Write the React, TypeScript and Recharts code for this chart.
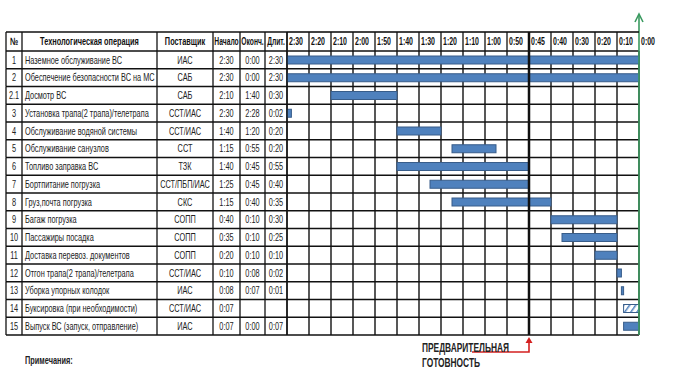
import React from "react";
import { BarChart, Bar, XAxis, YAxis, CartesianGrid, ReferenceLine } from "recharts";

const nums = ["1", "2", "2.1", "3", "4", "5", "6", "7", "8", "9", "10", "11", "12", "13", "14", "15"];
const operations = [
  "Наземное обслуживание ВС",
  "Обеспечение безопасности ВС на МС",
  "Досмотр ВС",
  "Установка трапа(2 трапа)/телетрапа",
  "Обслуживание водяной системы",
  "Обслуживание санузлов",
  "Топливо заправка ВС",
  "Бортпитание погрузка",
  "Груз,почта погрузка",
  "Багаж погрузка",
  "Пассажиры посадка",
  "Доставка перевоз. документов",
  "Отгон трапа(2 трапа)/телетрапа",
  "Уборка упорных колодок",
  "Буксировка (при необходимости)",
  "Выпуск ВС (запуск, отправление)",
];
const suppliers = ["ИАС", "САБ", "САБ", "ССТ/ИАС", "ССТ/ИАС", "ССТ", "ТЗК", "ССТ/ПБП/ИАС", "СКС", "СОПП", "СОПП", "СОПП", "ССТ/ИАС", "ИАС", "ССТ/ИАС", "ИАС"];
const starts = ["2:30", "2:30", "2:10", "2:30", "1:40", "1:15", "1:40", "1:25", "1:15", "0:40", "0:35", "0:20", "0:10", "0:08", "0:07", "0:07"];
const ends = ["0:00", "0:00", "1:40", "2:28", "1:20", "0:55", "0:45", "0:45", "0:40", "0:10", "0:10", "0:10", "0:08", "0:07", "", "0:00"];
const durations = ["2:30", "2:30", "0:30", "0:02", "0:20", "0:20", "0:55", "0:40", "0:35", "0:30", "0:25", "0:10", "0:02", "0:01", "", "0:07"];
const timeTicks = ["2:30", "2:20", "2:10", "2:00", "1:50", "1:40", "1:30", "1:20", "1:10", "1:00", "0:50", "0:45", "0:40", "0:30", "0:20", "0:10", "0:00"];

const W = 674;
const H = 369;
const HEAD_TOP = 32;
const HEAD_H = 19;
const BOTTOM = 34;
const RIGHT = 35;
const COLS = [6, 22, 157, 213, 240, 265, 287];
const ROW_H = (H - HEAD_TOP - HEAD_H - BOTTOM) / nums.length;
const COL_W = (W - COLS[6] - RIGHT) / (timeTicks.length - 1);
const FONT = "'Liberation Sans', Arial, sans-serif";
const SX = 0.7; // исходная картинка сжата по горизонтали
const LINE = "#111";
const BLUE = "#4F81BD";
const BLUE_DARK = "#385D8A";
const GREEN = "#3A9A60";
const RED = "#D42020";

const toMin = (t: string) => {
  const [h, m] = t.split(":").map(Number);
  return h * 60 + m;
};
const tickMin = timeTicks.map(toMin);

// шкала неравномерная (0:50 -> 0:45 -> 0:40), поэтому переводим время в номер колонки
const toPos = (t: string) => {
  const m = toMin(t);
  for (let i = 0; i < tickMin.length - 1; i++) {
    if (m <= tickMin[i] && m >= tickMin[i + 1]) {
      return i + (tickMin[i] - m) / (tickMin[i] - tickMin[i + 1]);
    }
  }
  return 0;
};

const data = nums.map((no, i) => {
  const s = toPos(starts[i]);
  const e = toPos(ends[i] || "0:00");
  return { no, offset: s, len: e - s, hatch: !ends[i] };
});

const mid = (a: number, b: number) => (COLS[a] + COLS[b]) / 2;

const T = ({ x, y, anchor = "start", size = 10.5, bold = false, sx = SX, fill = "#222", children }: any) => (
  <text
    transform={`translate(${x},${y}) scale(${sx},1)`}
    textAnchor={anchor}
    fontSize={size}
    fontWeight={bold ? "bold" : "normal"}
    fontFamily={FONT}
    fill={fill}
  >
    {children}
  </text>
);

const RowTick = (props: any) => {
  const { y, payload } = props;
  const i = nums.indexOf(String(payload.value));
  const top = y - ROW_H / 2;
  const bot = top + ROW_H;
  const ty = y + 3.8;
  return (
    <g>
      <line x1={COLS[0]} x2={COLS[6]} y1={bot} y2={bot} stroke={LINE} strokeWidth={1.6} />
      {COLS.map((cx) => (
        <line key={cx} x1={cx} x2={cx} y1={top} y2={bot} stroke={LINE} strokeWidth={1.3} />
      ))}
      <T x={mid(0, 1)} y={ty} anchor="middle">{nums[i]}</T>
      <T x={COLS[1] + 3} y={ty}>{operations[i]}</T>
      <T x={mid(2, 3)} y={ty} anchor="middle">{suppliers[i]}</T>
      <T x={mid(3, 4)} y={ty} anchor="middle">{starts[i]}</T>
      <T x={mid(4, 5)} y={ty} anchor="middle">{ends[i]}</T>
      <T x={mid(5, 6)} y={ty} anchor="middle">{durations[i]}</T>
    </g>
  );
};

const headers = ["№", "Технологическая операция", "Поставщик", "Начало", "Оконч.", "Длит."];

const TimeTick = (props: any) => {
  const { x, payload } = props;
  const idx = payload.value;
  const ty = HEAD_TOP + HEAD_H / 2 + 3.8;
  const bot = HEAD_TOP + HEAD_H;
  return (
    <g>
      {idx === 0 && (
        <g>
          <line x1={COLS[0]} x2={COLS[6]} y1={HEAD_TOP} y2={HEAD_TOP} stroke={LINE} strokeWidth={1.6} />
          <line x1={COLS[0]} x2={COLS[6]} y1={bot} y2={bot} stroke={LINE} strokeWidth={1.6} />
          {COLS.map((cx) => (
            <line key={cx} x1={cx} x2={cx} y1={HEAD_TOP} y2={bot} stroke={LINE} strokeWidth={1.3} />
          ))}
          {headers.map((h, k) => (
            <T key={h} x={mid(k, k + 1)} y={ty} anchor="middle" bold fill="#111" sx={k >= 3 ? 0.64 : SX}>
              {h}
            </T>
          ))}
        </g>
      )}
      {idx < timeTicks.length - 1 && (
        <>
          <line x1={x} x2={x + COL_W} y1={HEAD_TOP} y2={HEAD_TOP} stroke={LINE} strokeWidth={1.6} />
          <line x1={x} x2={x} y1={HEAD_TOP} y2={bot} stroke={LINE} strokeWidth={1.3} />
        </>
      )}
      <T x={x + 2} y={ty} size={10} bold fill="#111">{timeTicks[idx]}</T>
    </g>
  );
};

const GanttBar = (props: any) => {
  const { x, y, width, height, payload } = props;
  if (!width || width <= 0) return null;
  if (payload.hatch) {
    return (
      <g>
        <defs>
          <pattern id="tow-hatch" width="5" height="5" patternUnits="userSpaceOnUse" patternTransform="rotate(35)">
            <rect width="5" height="5" fill="#fff" />
            <line x1="0" y1="0" x2="0" y2="5" stroke={BLUE} strokeWidth="3" />
          </pattern>
        </defs>
        <rect x={x} y={y} width={width} height={height} fill="url(#tow-hatch)" stroke={BLUE_DARK} strokeWidth={1} />
      </g>
    );
  }
  return <rect x={x} y={y} width={width} height={height} fill={BLUE} stroke={BLUE_DARK} strokeWidth={1} />;
};

const ReadyLine = (props: any) => {
  const { x1, y1, y2 } = props;
  const yb = Math.max(y1, y2);
  return (
    <g>
      <line x1={x1} x2={x1} y1={HEAD_TOP} y2={yb} stroke={LINE} strokeWidth={2.5} />
      <polyline points={`${x1 - 57},${yb + 17} ${x1},${yb + 17} ${x1},${yb + 7}`} fill="none" stroke={RED} strokeWidth={1.6} />
      <path d={`M${x1 - 3.5},${yb + 8} L${x1},${yb + 2} L${x1 + 3.5},${yb + 8}Z`} fill={RED} />
      <T x={x1 - 107} y={yb + 16.5} size={13.5} bold sx={0.62}>ПРЕДВАРИТЕЛЬНАЯ</T>
      <T x={x1 - 107} y={yb + 31.5} size={13.5} bold sx={0.62}>ГОТОВНОСТЬ</T>
    </g>
  );
};

const ZeroLine = (props: any) => {
  const { x1, y1, y2 } = props;
  const yb = Math.max(y1, y2);
  return (
    <g>
      <line x1={x1} x2={x1} y1={15} y2={yb} stroke={GREEN} strokeWidth={1.6} />
      <path d={`M${x1 - 4},${22} L${x1},${14} L${x1 + 4},${22}`} fill="none" stroke={GREEN} strokeWidth={1.6} />
    </g>
  );
};

export default function App() {
  const ticks = timeTicks.map((_, i) => i);
  return (
    <div style={{ position: "absolute", left: 0, top: 0, width: W, height: H, background: "#fff" }}>
      <BarChart
        width={W}
        height={H}
        layout="vertical"
        data={data}
        margin={{ top: HEAD_TOP, right: RIGHT, bottom: BOTTOM, left: 0 }}
        barCategoryGap={0}
      >
        <CartesianGrid
          stroke={LINE}
          strokeWidth={1.4}
          horizontalCoordinatesGenerator={({ offset }: any) =>
            nums.map((_, i) => offset.top + i * ROW_H).concat(offset.top + nums.length * ROW_H)
          }
        />
        <XAxis
          type="number"
          orientation="top"
          domain={[0, timeTicks.length - 1]}
          ticks={ticks}
          interval={0}
          height={HEAD_H}
          axisLine={false}
          tickLine={false}
          tick={(p: any) => <TimeTick {...p} />}
        />
        <YAxis
          type="category"
          dataKey="no"
          width={COLS[6]}
          interval={0}
          axisLine={false}
          tickLine={false}
          tick={(p: any) => <RowTick {...p} />}
        />
        <Bar dataKey="offset" stackId="t" fill="transparent" barSize={8} isAnimationActive={false} />
        <Bar dataKey="len" stackId="t" barSize={8} shape={(p: any) => <GanttBar {...p} />} isAnimationActive={false} />
        <ReferenceLine x={11} shape={(p: any) => <ReadyLine {...p} />} />
        <ReferenceLine x={timeTicks.length - 1} shape={(p: any) => <ZeroLine {...p} />} />
      </BarChart>
      <div
        style={{
          position: "absolute",
          left: 25,
          top: 354,
          fontFamily: FONT,
          fontSize: 10.5,
          fontWeight: "bold",
          color: "#222",
          transform: `scaleX(${SX})`,
          transformOrigin: "left top",
        }}
      >
        Примечания:
      </div>
    </div>
  );
}
